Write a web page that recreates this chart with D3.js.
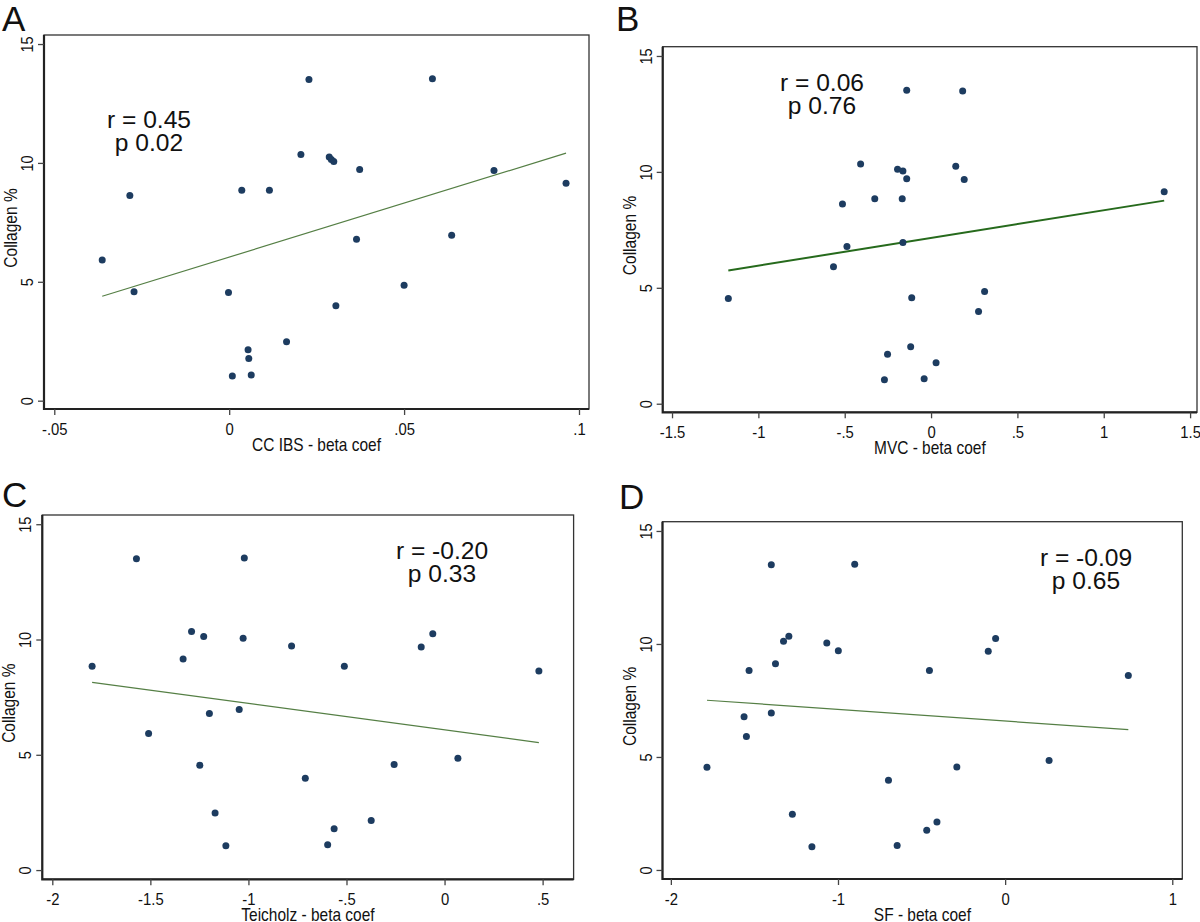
<!DOCTYPE html>
<html>
<head>
<meta charset="utf-8">
<script src="https://cdn.jsdelivr.net/npm/d3@7"></script>
<style>
  body { margin: 0; background: #fff; }
  svg { display: block; }
  text { font-family: "Liberation Sans", Arial, sans-serif; fill: #111; }
</style>
</head>
<body>
<svg width="1200" height="922"></svg>
<script>
// collagen % vs beta coefficients, four panels
const xA = [0.0228, 0.0581, 0.0205, 0.0286, 0.0292, 0.0299, 0.0373, 0.0757, 0.0963, -0.0284, 0.0036, 0.0115,
  -0.0363, 0.0364, 0.0636, -0.0272, -0.0002, 0.0500, 0.0305, 0.0164, 0.0054, 0.0056, 0.0009, 0.0063];
const yA = [13.51, 13.54, 10.35, 10.25, 10.14, 10.06, 9.72, 9.68, 9.14, 8.63, 8.85, 8.85,
  5.92, 6.79, 6.96, 4.58, 4.55, 4.85, 3.99, 2.48, 2.14, 1.77, 1.04, 1.08];
const fitAx = [-0.0363, 0.0963];
const fitAy = [4.39, 10.41];

const xB = [-0.141, 0.183, -0.408, -0.194, -0.163, 0.143, -0.141, 0.192, 1.350, -0.513, -0.326, -0.167,
  -0.487, -0.163, -0.565, -1.174, -0.112, 0.310, 0.275, -0.118, -0.252, 0.029, -0.270, -0.040];
const yB = [13.52, 13.49, 10.34, 10.11, 10.04, 10.24, 9.70, 9.67, 9.14, 8.62, 8.84, 8.84,
  6.78, 6.95, 5.91, 4.54, 4.57, 4.84, 3.98, 2.46, 2.13, 1.77, 1.03, 1.08];
const fitBx = [-1.174, 1.350];
const fitBy = [5.75, 8.76];

const xC = [-1.571, -1.021, -1.290, -1.228, -1.027, -0.060, -0.780, -0.119, -1.333, -1.797, -0.511, 0.481,
  -1.199, -1.047, -1.509, -1.248, -0.257, 0.068, -0.710, -1.170, -0.374, -0.563, -1.115, -0.596];
const yC = [13.50, 13.54, 10.35, 10.13, 10.05, 10.25, 9.72, 9.67, 9.15, 8.84, 8.84, 8.63,
  6.79, 6.96, 5.92, 4.55, 4.58, 4.85, 3.98, 2.48, 2.15, 1.79, 1.05, 1.10];
const fitCx = [-1.797, 0.481];
const fitCy = [8.14, 5.53];

const xD = [-1.399, -0.900, -1.294, -1.326, -1.067, -0.057, -0.998, -0.101, -1.374, -1.532, -0.453, 0.737,
  -1.562, -1.399, -1.548, -1.784, -0.289, 0.263, -0.698, -1.273, -0.408, -0.469, -1.156, -0.646];
const yD = [13.50, 13.53, 10.34, 10.12, 10.04, 10.24, 9.70, 9.68, 9.13, 8.83, 8.83, 8.61,
  6.78, 6.95, 5.90, 4.54, 4.56, 4.84, 3.97, 2.46, 2.12, 1.76, 1.03, 1.08];
const fitDx = [-1.784, 0.737];
const fitDy = [7.51, 6.21];

// tick values and labels
const yTicks = [0, 5, 10, 15];
const xTicksA = [-0.05, 0, 0.05, 0.1];
const xLabelsA = ['-.05', '0', '.05', '.1'];
const xTicksB = [-1.5, -1, -0.5, 0, 0.5, 1, 1.5];
const xLabelsB = ['-1.5', '-1', '-.5', '0', '.5', '1', '1.5'];
const xTicksC = [-2, -1.5, -1, -0.5, 0, 0.5];
const xLabelsC = ['-2', '-1.5', '-1', '-.5', '0', '.5'];
const xTicksD = [-2, -1, 0, 1];
const xLabelsD = ['-2', '-1', '0', '1'];

const panelLetters = ['A', 'B', 'C', 'D'];
const xTitles = ['CC IBS - beta coef', 'MVC - beta coef', 'Teicholz - beta coef', 'SF - beta coef'];
const yTitle = 'Collagen %';
const rText = ['r = 0.45', 'r = 0.06', 'r = -0.20', 'r = -0.09'];
const pText = ['p 0.02', 'p 0.76', 'p 0.33', 'p 0.65'];

// layout for each panel (pixel boxes, axis extents, label spots)
const panels = [
  {x: xA, y: yA, fx: fitAx, fy: fitAy, ticks: xTicksA, labels: xLabelsA,
   box: [44, 35, 589, 409], xDom: [-0.05294, 0.10286], yDom: [-0.35, 15.38],
   letter: [2, 31], ann: [149, 128], line: '#557f45', lw: 1.2},
  {x: xB, y: yB, fx: fitBx, fy: fitBy, ticks: xTicksB, labels: xLabelsB,
   box: [662.7, 46.7, 1197, 412.3], xDom: [-1.554, 1.54], yDom: [-0.37, 15.40],
   letter: [616, 31], ann: [822, 91], line: '#266a1c', lw: 2},
  {x: xC, y: yC, fx: fitCx, fy: fitCy, ticks: xTicksC, labels: xLabelsC,
   box: [42.3, 515, 573.6, 879.3], xDom: [-2.051, 0.658], yDom: [-0.40, 15.40],
   letter: [2, 507], ann: [442, 559], line: '#557f45', lw: 1.2},
  {x: xD, y: yD, fx: fitDx, fy: fitDy, ticks: xTicksD, labels: xLabelsD,
   box: [662.5, 521.7, 1182.3, 879], xDom: [-2.05, 1.06], yDom: [-0.40, 15.41],
   letter: [619, 509], ann: [1086, 566], line: '#557f45', lw: 1.2}
];

const svg = d3.select('svg');

panels.forEach((p, i) => {
  const [x0, y0, x1, y1] = p.box;
  const x = d3.scaleLinear().domain(p.xDom).range([x0, x1]);
  const y = d3.scaleLinear().domain(p.yDom).range([y1, y0]);
  const g = svg.append('g');

  // panel letter
  g.append('text')
    .attr('x', p.letter[0]).attr('y', p.letter[1])
    .attr('font-family', '"Noto Sans", "Open Sans", sans-serif')
    .attr('font-size', 35)
    .text(panelLetters[i]);

  // frame: top/right thin, left/bottom heavier
  g.append('rect')
    .attr('x', x0).attr('y', y0)
    .attr('width', x1 - x0).attr('height', y1 - y0)
    .attr('fill', 'none').attr('stroke', '#333').attr('stroke-width', 1.3);
  g.append('path')
    .attr('d', `M${x0},${y0}V${y1}H${x1}`)
    .attr('fill', 'none').attr('stroke', '#222').attr('stroke-width', 2.2);

  // x axis
  const xAxis = g.append('g')
    .attr('transform', `translate(0,${y1})`)
    .call(d3.axisBottom(x).tickValues(p.ticks)
      .tickFormat((d, k) => p.labels[k]).tickSize(6).tickPadding(0));
  xAxis.select('.domain').remove();
  xAxis.selectAll('line').attr('stroke', '#444').attr('stroke-width', 1.3);
  xAxis.selectAll('text')
    .attr('y', 0).attr('dy', 0)
    .attr('transform', 'translate(0,26) scale(0.9,1)')
    .attr('font-size', 16.5).attr('fill', '#111')
    .attr('font-family', '"Liberation Sans", Arial, sans-serif');

  // y axis, labels turned vertical
  const yAxis = g.append('g')
    .attr('transform', `translate(${x0},0)`)
    .call(d3.axisLeft(y).tickValues(yTicks).tickSize(6));
  yAxis.select('.domain').remove();
  yAxis.selectAll('line').attr('stroke', '#444').attr('stroke-width', 1.3);
  yAxis.selectAll('text')
    .attr('x', 0).attr('y', -11).attr('dy', 0)
    .attr('transform', 'rotate(-90) scale(0.88,1)')
    .attr('text-anchor', 'middle')
    .attr('font-size', 16.5).attr('fill', '#111')
    .attr('font-family', '"Liberation Sans", Arial, sans-serif');

  // axis titles
  g.append('text')
    .attr('transform', `translate(${(x0 + x1) / 2},${y1 + 42}) scale(0.86,1)`)
    .attr('text-anchor', 'middle')
    .attr('font-size', 18)
    .text(xTitles[i]);
  g.append('text')
    .attr('transform', `translate(${x0 - 27},${(y0 + y1) / 2 + 6}) rotate(-90) scale(0.84,1)`)
    .attr('text-anchor', 'middle')
    .attr('font-size', 18.5)
    .text(yTitle);

  // fitted line
  const line = d3.line().x(d => x(d[0])).y(d => y(d[1]));
  g.append('path')
    .datum(d3.zip(p.fx, p.fy))
    .attr('d', line)
    .attr('fill', 'none')
    .attr('stroke', p.line)
    .attr('stroke-width', p.lw);

  // points
  g.append('g')
    .selectAll('circle')
    .data(d3.zip(p.x, p.y))
    .join('circle')
    .attr('cx', d => x(d[0]))
    .attr('cy', d => y(d[1]))
    .attr('r', 3.5)
    .attr('fill', '#1d3c60');

  // r / p annotation
  g.append('text')
    .attr('transform', `translate(${p.ann[0]},${p.ann[1]}) scale(1.07,1)`)
    .attr('text-anchor', 'middle')
    .attr('font-size', 23)
    .text(rText[i]);
  g.append('text')
    .attr('transform', `translate(${p.ann[0]},${p.ann[1] + 22.5}) scale(1.07,1)`)
    .attr('text-anchor', 'middle')
    .attr('font-size', 23)
    .text(pText[i]);
});
</script>
</body>
</html>
